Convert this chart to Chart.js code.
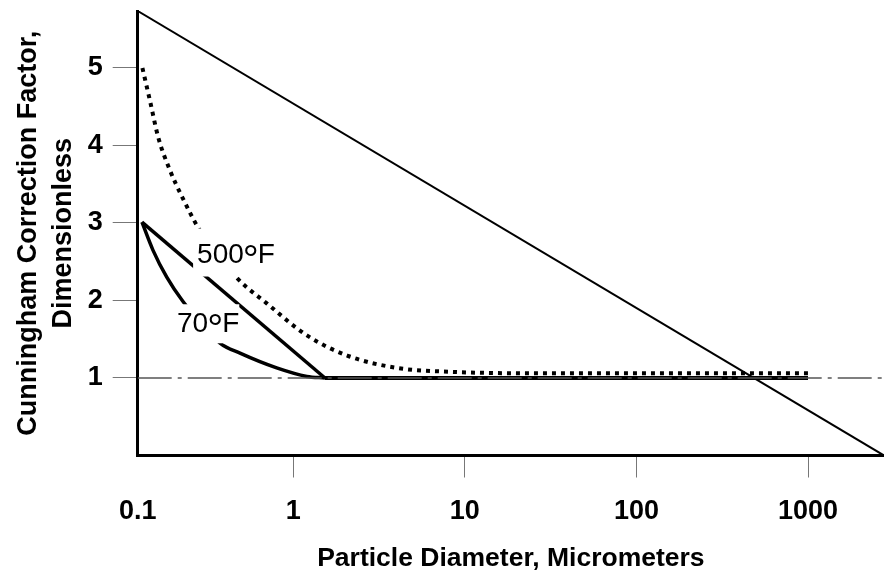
<!DOCTYPE html>
<html>
<head>
<meta charset="utf-8">
<script src="https://cdn.jsdelivr.net/npm/chart.js@4.4.1/dist/chart.umd.min.js"></script>
<style>
  html, body { margin: 0; padding: 0; background: #fff; }
  #wrap { width: 884px; height: 575px; position: relative; }
</style>
</head>
<body>
<div id="wrap"><canvas id="chart"></canvas></div>
<script>
// axis ranges
const xMin = 0.1239;
const xMax = 2773;
const yMin = 0;
const yMax = 5.735;

const xTickValues = [0.1239, 1, 10, 100, 1000];
const xTickLabels = ['0.1', '1', '10', '100', '1000'];
const yTickValues = [1, 2, 3, 4, 5];

// long diagonal from the top-left corner to the bottom-right corner
const diagonalX = [xMin, xMax];
const diagonalY = [yMax, 0];

// dash-dot reference line at C = 1
const unityX = [xMin, xMax];
const unityY = [1, 1];

// dotted curve
const hotX = [0.132, 0.146, 0.163, 0.191, 0.2245, 0.286, 0.47, 0.703, 1.2, 2.06, 4.02, 8.2, 31.3, 1000];
const hotY = [5.0, 4.58, 4.11, 3.68, 3.34, 2.9, 2.29, 1.96, 1.55, 1.29, 1.13, 1.08, 1.06, 1.06];

// straight solid line
const straightX = [0.1312, 1.53];
const straightY = [3.01, 1.0];

// curved solid line
const coldX = [0.1312, 0.152, 0.183, 0.227, 0.374, 0.489, 0.80, 1.2, 1.53];
const coldY = [3.01, 2.65, 2.30, 1.99, 1.45, 1.32, 1.13, 1.02, 1.0];

// flat solid part
const flatX = [1.53, 1000];
const flatY = [1.0, 1.0];

// curve labels (text, and data position of the text's left baseline)
const curveLabels = ['500°F', '70°F'];
const curveLabelX = [0.275, 0.21];
const curveLabelY = [2.49, 1.59];

const FONT = '"Liberation Sans", Arial, Helvetica, sans-serif';

function pts(xs, ys) {
    return xs.map((x, i) => ({ x: x, y: ys[i] }));
}

// white boxes behind the labels break the lines, as in the drawing;
// the degree ring is drawn larger, like the original lettering
const labelPlugin = {
    id: 'curveLabels',
    afterDatasetsDraw(chart) {
        const { ctx, scales } = chart;
        const pads = [
            { l: 4, t: 34, r: 4, b: 14 },
            { l: 6, t: 28, r: 0, b: 11 }
        ];
        const mainFont = '28px ' + FONT;
        const degFont = '40px ' + FONT;
        ctx.save();
        ctx.textBaseline = 'alphabetic';
        ctx.textAlign = 'left';
        curveLabels.forEach((txt, i) => {
            const parts = txt.split('°');
            const px = scales.x.getPixelForValue(curveLabelX[i]);
            const py = scales.y.getPixelForValue(curveLabelY[i]);

            ctx.font = mainFont;
            const w0 = ctx.measureText(parts[0]).width;
            const capAsc = ctx.measureText('F').actualBoundingBoxAscent;
            const w1 = ctx.measureText(parts[1]).width;
            ctx.font = degFont;
            const dm = ctx.measureText('°');
            const degW = dm.actualBoundingBoxRight + dm.actualBoundingBoxLeft;
            const degX = px + w0 + 1 + dm.actualBoundingBoxLeft;
            const degY = py - capAsc + dm.actualBoundingBoxAscent;
            const fX = px + w0 + 1 + degW + 1;
            const total = fX + w1 - px;

            const p = pads[i];
            ctx.fillStyle = '#fff';
            ctx.fillRect(px - p.l, py - p.t, total + p.l + p.r, p.t + p.b);

            ctx.fillStyle = '#000';
            ctx.font = mainFont;
            ctx.fillText(parts[0], px, py);
            ctx.fillText(parts[1], fX, py);
            ctx.font = degFont;
            ctx.fillText('°', degX, degY);
        });
        ctx.restore();
    }
};

const ctx = document.getElementById('chart').getContext('2d');
new Chart(ctx, {
    type: 'line',
    data: {
        datasets: [
            {
                data: pts(unityX, unityY),
                borderColor: '#555',
                borderWidth: 1.5,
                borderDash: [34, 6, 4, 6]
            },
            {
                data: pts(diagonalX, diagonalY),
                borderColor: '#000',
                borderWidth: 2
            },
            {
                data: pts(hotX, hotY),
                borderColor: '#000',
                borderWidth: 4,
                borderDash: [4, 5],
                cubicInterpolationMode: 'monotone'
            },
            {
                data: pts(straightX, straightY),
                borderColor: '#000',
                borderWidth: 3.5
            },
            {
                data: pts(coldX, coldY),
                borderColor: '#000',
                borderWidth: 3.5,
                cubicInterpolationMode: 'monotone'
            },
            {
                data: pts(flatX, flatY),
                borderColor: '#000',
                borderWidth: 4
            }
        ]
    },
    options: {
        responsive: true,
        maintainAspectRatio: false,
        animation: false,
        layout: { padding: { top: 11, right: 0, bottom: 0, left: 0 } },
        elements: { point: { radius: 0 }, line: { fill: false } },
        plugins: {
            legend: { display: false },
            tooltip: { enabled: false }
        },
        scales: {
            x: {
                type: 'logarithmic',
                min: xMin,
                max: xMax,
                afterBuildTicks: (scale) => {
                    scale.ticks = xTickValues.map(v => ({ value: v }));
                },
                afterFit: (scale) => {
                    scale.height = 119.5;
                    scale.paddingLeft = 0;
                    scale.paddingRight = 0;
                },
                ticks: {
                    autoSkip: false,
                    maxRotation: 0,
                    padding: 18,
                    color: '#000',
                    font: { family: FONT, size: 27, weight: 'bold' },
                    callback: (value, index) => xTickLabels[index]
                },
                grid: {
                    drawOnChartArea: false,
                    drawTicks: true,
                    tickLength: 22,
                    lineWidth: 1,
                    color: (c) => (c.index === 0 ? 'rgba(0,0,0,0)' : '#777')
                },
                border: { display: true, color: '#000', width: 3 },
                title: {
                    display: true,
                    text: 'Particle Diameter, Micrometers',
                    color: '#000',
                    font: { family: FONT, size: 26.5, weight: 'bold' },
                    padding: { top: 0, bottom: 0 }
                }
            },
            y: {
                type: 'linear',
                min: yMin,
                max: yMax,
                afterBuildTicks: (scale) => {
                    scale.ticks = yTickValues.map(v => ({ value: v }));
                },
                afterFit: (scale) => {
                    scale.width = 137.7;
                    scale.paddingTop = 0;
                    scale.paddingBottom = 0;
                },
                ticks: {
                    padding: 10,
                    color: '#000',
                    font: { family: FONT, size: 27, weight: 'bold' }
                },
                grid: {
                    drawOnChartArea: false,
                    drawTicks: true,
                    tickLength: 25,
                    lineWidth: 1,
                    color: '#777'
                },
                border: { display: true, color: '#000', width: 3 },
                title: {
                    display: true,
                    text: ['Cunningham Correction Factor,', 'Dimensionless'],
                    color: '#000',
                    font: { family: FONT, size: 27, weight: 'bold', lineHeight: 1.3 },
                    padding: { top: 11, bottom: 0 }
                }
            }
        }
    },
    plugins: [labelPlugin]
});
</script>
</body>
</html>
